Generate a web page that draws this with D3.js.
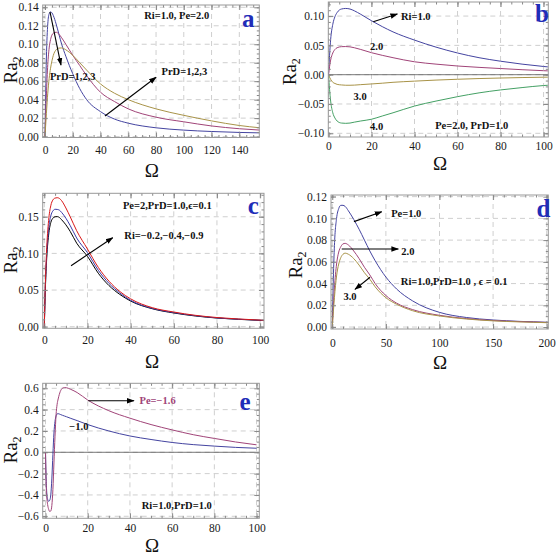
<!DOCTYPE html>
<html>
<head>
<meta charset="utf-8">
<script src="https://cdn.jsdelivr.net/npm/d3@7"></script>
<style>
  body { margin: 0; background: #fff; }
</style>
</head>
<body>
<div id="chart"></div>
<script>
// Panel a : Ri=1.0, Pe=2.0, curves for PrD = 1, 2, 3
const omegaA = [0, 1, 2, 3, 4, 5, 6, 8, 10, 12, 15, 20, 25, 30, 40, 50, 60, 80, 100, 120, 140, 155];
const aPrD1 = [0, .085, .122, .133, .135, .134, .131, .122, .111, .100, .087, .068, .052, .040, .027, .019, .0145, .0095, .007, .0055, .0045, .004];
const aPrD2 = [0, .045, .078, .096, .105, .110, .112, .113, .111, .107, .100, .088, .077, .066, .048, .038, .030, .021, .016, .0115, .0085, .007];
const aPrD3 = [0, .025, .047, .063, .074, .082, .088, .094, .0958, .096, .094, .088, .080, .072, .057, .047, .040, .030, .023, .017, .012, .0095];

// Panel b : Pe=2.0, PrD=1.0, curves for Ri = 1, 2, 3, 4
const omegaB = [0, 1, 2, 3, 4, 6, 8, 10, 12, 15, 20, 25, 30, 40, 50, 60, 70, 80, 90, 100, 102];
const bRi1 = [0, .060, .086, .099, .106, .112, .113, .112, .109, .103, .092, .082, .073, .059, .047, .037, .029, .023, .018, .014, .0133];
const bRi2 = [0, .025, .037, .043, .046, .0478, .048, .0475, .046, .043, .0375, .033, .029, .022, .018, .0148, .0125, .0105, .0085, .0068, .0065];
const bRi3 = [0, -.008, -.013, -.015, -.0165, -.0175, -.018, -.018, -.0178, -.017, -.0158, -.0145, -.013, -.011, -.0092, -.0078, -.0066, -.0057, -.0049, -.0043, -.0042];
const bRi4 = [0, -.045, -.065, -.074, -.079, -.0825, -.083, -.0825, -.081, -.079, -.076, -.0705, -.065, -.0535, -.045, -.0375, -.031, -.026, -.022, -.0185, -.018];

// Panel c : Pe=2, PrD=1.0, eps=0.1, curves for Ri = -0.2, -0.4, -0.9
const omegaC = [0, 0.5, 1, 2, 3, 4, 5, 6, 7, 8, 10, 12, 15, 20, 25, 30, 35, 40, 50, 60, 70, 80, 90, 100, 102];
const cRiBlack = [0, .052, .087, .125, .142, .148, .150, .1502, .149, .146, .139, .130, .114, .096, .073, .056, .044, .035, .0245, .0187, .0146, .0118, .010, .0086, .0083];
const cRiBlue = [0, .055, .092, .133, .151, .158, .1602, .160, .159, .156, .148, .138, .121, .101, .077, .059, .046, .036, .025, .0192, .015, .012, .0102, .0088, .0085];
const cRiRed = [0, .060, .100, .145, .165, .173, .1755, .176, .175, .172, .162, .150, .131, .106, .081, .062, .048, .038, .026, .020, .0155, .0125, .0105, .009, .0087];

// Panel d : Ri=1.0, PrD=1.0, eps=0.1, curves for Pe = 1, 2, 3
const omegaD = [0, 1, 2, 4, 6, 8, 10, 12, 15, 20, 25, 30, 35, 40, 50, 60, 75, 100, 125, 150, 175, 200, 202];
const dPe1 = [0, .045, .075, .100, .109, .112, .112, .111, .107, .099, .090, .080, .070, .061, .046, .035, .024, .0135, .0088, .0065, .0052, .0044, .0043];
const dPe2 = [0, .020, .036, .058, .069, .074, .0765, .077, .0755, .070, .063, .055, .048, .040, .029, .022, .016, .0108, .0078, .006, .005, .0042, .0041];
const dPe3 = [0, .014, .027, .047, .058, .064, .067, .068, .067, .063, .057, .050, .044, .037, .027, .021, .015, .0102, .0074, .0057, .0047, .004, .0039];

// Panel e : Ri=1.0, PrD=1.0, curves for Pe = -1.6, -1.0
const omegaE = [0, 0.3, 0.6, 1, 1.5, 2, 2.5, 3, 3.5, 4, 4.5, 5, 5.5, 6, 7, 8, 9, 10, 12, 15, 20, 30, 40, 50, 60, 70, 80, 90, 100];
const ePeM16 = [0, -.30, -.42, -.49, -.535, -.555, -.55, -.50, -.35, -.10, .15, .35, .45, .50, .57, .60, .607, .605, .59, .56, .49, .39, .32, .26, .21, .165, .13, .097, .07];
const ePeM10 = [0, -.25, -.38, -.44, -.46, -.45, -.40, -.25, -.02, .18, .29, .34, .36, .362, .355, .347, .34, .333, .318, .297, .26, .20, .153, .12, .092, .072, .058, .046, .038];

// tick values
const ticksA = { x: [0, 20, 40, 60, 80, 100, 120, 140], y: [0, .02, .04, .06, .08, .10, .12, .14] };
const ticksB = { x: [0, 20, 40, 60, 80, 100], y: [-.10, -.05, 0, .05, .10] };
const ticksC = { x: [0, 20, 40, 60, 80, 100], y: [0, .05, .10, .15] };
const ticksD = { x: [0, 50, 100, 150, 200], y: [0, .02, .04, .06, .08, .10, .12] };
const ticksE = { x: [0, 20, 40, 60, 80, 100], y: [-.6, -.4, -.2, 0, .2, .4, .6] };

const serif = '"Liberation Serif", "Times New Roman", "DejaVu Serif", serif';
const cBlue = '#4444a0', cPurple = '#a04478', cOlive = '#a89348', cGreen = '#44a064';

const svg = d3.select('#chart')
  .append('svg')
    .attr('width', 556)
    .attr('height', 555)
    .attr('font-family', serif);
svg.append('rect').attr('width', 556).attr('height', 555).attr('fill', '#fff');

svg.append('defs').append('marker')
    .attr('id', 'arrow')
    .attr('viewBox', '0 0 10 10')
    .attr('refX', 9).attr('refY', 5)
    .attr('markerWidth', 7).attr('markerHeight', 7)
    .attr('orient', 'auto')
  .append('path')
    .attr('d', 'M0,1.5 L10,5 L0,8.5 z')
    .attr('fill', '#000');

function drawPanel(p) {
  const x = d3.scaleLinear().domain(p.xDomain).range([p.left, p.right]);
  const y = d3.scaleLinear().domain(p.yDomain).range([p.bottom, p.top]);
  const g = svg.append('g');

  g.append('clipPath').attr('id', 'clip-' + p.id)
    .append('rect')
      .attr('x', p.left).attr('y', p.top)
      .attr('width', p.right - p.left).attr('height', p.bottom - p.top);

  // dashed grid
  g.append('g').selectAll('line').data(p.ticks.x).join('line')
    .attr('x1', d => x(d)).attr('x2', d => x(d))
    .attr('y1', p.top).attr('y2', p.bottom)
    .attr('stroke', '#cfcfcf').attr('stroke-dasharray', '5,4');
  g.append('g').selectAll('line').data(p.ticks.y).join('line')
    .attr('x1', p.left).attr('x2', p.right)
    .attr('y1', d => y(d)).attr('y2', d => y(d))
    .attr('stroke', '#cfcfcf').attr('stroke-dasharray', '5,4');

  if (p.zeroLine) {
    g.append('line')
      .attr('x1', p.left).attr('x2', p.right)
      .attr('y1', y(0)).attr('y2', y(0))
      .attr('stroke', '#555').attr('stroke-width', 0.8);
  }

  // curves
  const line = d3.line()
    .x(d => x(d[0]))
    .y(d => y(d[1]))
    .curve(d3.curveMonotoneX);
  g.append('g').attr('clip-path', 'url(#clip-' + p.id + ')')
    .selectAll('path').data(p.series).join('path')
      .attr('d', s => line(p.omega.map((o, i) => [o, s.values[i]])))
      .attr('fill', 'none')
      .attr('stroke', s => s.color)
      .attr('stroke-width', 1);

  // frame ticks on all four sides, pointing inward
  const xMinor = d3.range(p.minor.x[0], p.xDomain[1], p.minor.x[1]);
  const yMinor = d3.range(p.minor.y[0], p.yDomain[1], p.minor.y[1]);
  const tidy = a => a.attr('font-family', serif)
    .call(s => s.select('.domain').remove())
    .call(s => s.selectAll('line').attr('stroke', '#888'))
    .call(s => s.selectAll('text').attr('fill', '#1a1a1a').attr('font-size', 11.5).attr('font-family', serif));

  g.append('g').attr('transform', 'translate(0,' + p.bottom + ')')
    .call(d3.axisBottom(x).tickValues(p.ticks.x).tickSize(-5).tickPadding(p.xPad).tickFormat(p.xFormat)).call(tidy);
  g.append('g').attr('transform', 'translate(0,' + p.bottom + ')')
    .call(d3.axisBottom(x).tickValues(xMinor).tickSize(-2.5).tickFormat('')).call(tidy);
  g.append('g').attr('transform', 'translate(0,' + p.top + ')')
    .call(d3.axisTop(x).tickValues(p.ticks.x).tickSize(-5).tickFormat('')).call(tidy);
  g.append('g').attr('transform', 'translate(0,' + p.top + ')')
    .call(d3.axisTop(x).tickValues(xMinor).tickSize(-2.5).tickFormat('')).call(tidy);
  g.append('g').attr('transform', 'translate(' + p.left + ',0)')
    .call(d3.axisLeft(y).tickValues(p.ticks.y).tickSize(-5).tickPadding(4).tickFormat(p.yFormat)).call(tidy);
  g.append('g').attr('transform', 'translate(' + p.left + ',0)')
    .call(d3.axisLeft(y).tickValues(yMinor).tickSize(-2.5).tickFormat('')).call(tidy);
  g.append('g').attr('transform', 'translate(' + p.right + ',0)')
    .call(d3.axisRight(y).tickValues(p.ticks.y).tickSize(-5).tickFormat('')).call(tidy);
  g.append('g').attr('transform', 'translate(' + p.right + ',0)')
    .call(d3.axisRight(y).tickValues(yMinor).tickSize(-2.5).tickFormat('')).call(tidy);

  g.append('rect')
    .attr('x', p.left).attr('y', p.top)
    .attr('width', p.right - p.left).attr('height', p.bottom - p.top)
    .attr('fill', 'none').attr('stroke', '#999').attr('stroke-width', 1);

  // axis titles
  g.append('text')
    .attr('x', p.xTitle[0]).attr('y', p.xTitle[1])
    .attr('dy', '0.35em').attr('text-anchor', 'middle')
    .attr('font-size', 19).attr('fill', '#111')
    .text('Ω');
  const yt = g.append('text')
    .attr('transform', 'translate(' + p.yTitle[0] + ',' + p.yTitle[1] + ') rotate(-90)')
    .attr('dy', '0.3em').attr('text-anchor', 'middle')
    .attr('font-size', 19).attr('fill', '#111');
  yt.append('tspan').text('Ra');
  yt.append('tspan').attr('font-size', 12).attr('dy', 4).text('2');

  // annotations
  g.append('g').selectAll('line').data(p.arrows).join('line')
    .attr('x1', d => x(d[0])).attr('y1', d => y(d[1]))
    .attr('x2', d => x(d[2])).attr('y2', d => y(d[3]))
    .attr('stroke', '#000').attr('stroke-width', 1.1)
    .attr('marker-end', 'url(#arrow)');
  g.append('g').selectAll('text').data(p.notes).join('text')
    .attr('x', d => x(d.at[0])).attr('y', d => y(d.at[1]))
    .attr('dy', '0.35em').attr('text-anchor', 'middle')
    .attr('font-size', 10.5).attr('font-weight', 'bold')
    .attr('fill', d => d.color || '#111')
    .text(d => d.text);
  g.append('text')
    .attr('x', x(p.letter[0])).attr('y', y(p.letter[1]))
    .attr('dy', '0.35em').attr('text-anchor', 'middle')
    .attr('font-size', 25).attr('font-weight', 'bold')
    .attr('fill', '#1f2db8')
    .text(p.letter[2]);
}

const f2 = d3.format('.2f'), f1 = d3.format('.1f');

drawPanel({
  id: 'a', left: 42.7, right: 259.3, top: 5, bottom: 137.5,
  xDomain: [-1.66, 154.4], yDomain: [-0.001, 0.1425],
  ticks: ticksA, minor: { x: [0, 5], y: [0, 0.005] },
  xFormat: d3.format('d'), yFormat: f2, xPad: 8.5,
  xTitle: [151.7, 170], yTitle: [11, 70],
  omega: omegaA,
  series: [{ values: aPrD1, color: cBlue }, { values: aPrD2, color: cPurple }, { values: aPrD3, color: cOlive }],
  arrows: [[3.6, 0.135, 11.5, 0.0775], [43.2, 0.0223, 80, 0.0642]],
  notes: [
    { text: 'Ri=1.0, Pe=2.0', at: [94.9, 0.1317] },
    { text: 'PrD=1,2,3', at: [20, 0.0649] },
    { text: 'PrD=1,2,3', at: [100.4, 0.0703] }
  ],
  letter: [146.5, 0.128, 'a']
});

drawPanel({
  id: 'b', left: 328.3, right: 548.3, top: 2, bottom: 137,
  xDomain: [-0.09, 102.2], yDomain: [-0.1063, 0.124],
  ticks: ticksB, minor: { x: [0, 5], y: [-0.1, 0.01] },
  xFormat: d3.format('d'), yFormat: f2, xPad: 5,
  xTitle: [440, 163.3], yTitle: [290, 71.7],
  zeroLine: true,
  omega: omegaB,
  series: [{ values: bRi1, color: cBlue }, { values: bRi2, color: cPurple }, { values: bRi3, color: cOlive }, { values: bRi4, color: cGreen }],
  arrows: [[20.8, 0.0904, 32, 0.1036]],
  notes: [
    { text: 'Ri=1.0', at: [40.6, 0.099] },
    { text: '2.0', at: [22.4, 0.0478] },
    { text: '3.0', at: [14.7, -0.0375] },
    { text: '4.0', at: [22.4, -0.0887] },
    { text: 'Pe=2.0, PrD=1.0', at: [66.6, -0.0858] }
  ],
  letter: [99.2, 0.105, 'b']
});

drawPanel({
  id: 'c', left: 42.7, right: 264, top: 193.3, bottom: 328.3,
  xDomain: [-0.74, 101.8], yDomain: [-0.0022, 0.182],
  ticks: ticksC, minor: { x: [0, 5], y: [0, 0.01] },
  xFormat: d3.format('d'), yFormat: f2, xPad: 7.7,
  xTitle: [152, 361], yTitle: [11, 260],
  omega: omegaC,
  series: [{ values: cRiBlack, color: '#000' }, { values: cRiBlue, color: '#3a3aa8' }, { values: cRiRed, color: '#d81818' }],
  arrows: [[12.4, 0.0832, 31.7, 0.1214]],
  notes: [
    { text: 'Pe=2,PrD=1.0,ϵ=0.1', at: [57, 0.166] },
    { text: 'Ri=−0.2,−0.4,−0.9', at: [55.4, 0.125] }
  ],
  letter: [96.8, 0.166, 'c']
});

drawPanel({
  id: 'd', left: 331, right: 548.3, top: 195, bottom: 329,
  xDomain: [-1.2, 201.5], yDomain: [-0.0018, 0.1215],
  ticks: ticksD, minor: { x: [0, 10], y: [0, 0.005] },
  xFormat: d3.format('d'), yFormat: f2, xPad: 10,
  xTitle: [440, 362], yTitle: [296, 265],
  omega: omegaD,
  series: [{ values: dPe1, color: cBlue }, { values: dPe2, color: cPurple }, { values: dPe3, color: cOlive }],
  arrows: [[20.2, 0.097, 46.1, 0.106], [8.8, 0.0718, 61.6, 0.0718], [35.2, 0.0458, 21.2, 0.0347]],
  notes: [
    { text: 'Pe=1.0', at: [69, 0.1047] },
    { text: '2.0', at: [70.5, 0.070] },
    { text: '3.0', at: [16.5, 0.0279] },
    { text: 'Ri=1.0,PrD=1.0 , ϵ = 0.1', at: [113.7, 0.0417] }
  ],
  letter: [196.9, 0.109, 'd']
});

drawPanel({
  id: 'e', left: 42.7, right: 259.3, top: 383.3, bottom: 518.3,
  xDomain: [-1.33, 101.3], yDomain: [-0.619, 0.647],
  ticks: ticksE, minor: { x: [0, 5], y: [-0.6, 0.05] },
  xFormat: d3.format('d'), yFormat: f1, xPad: 6,
  xTitle: [152, 545], yTitle: [11, 450],
  zeroLine: true,
  omega: omegaE,
  series: [{ values: ePeM10, color: cBlue }, { values: ePeM16, color: cPurple }],
  arrows: [[20.3, 0.484, 41.9, 0.484]],
  notes: [
    { text: 'Pe=−1.6', at: [53.1, 0.484], color: cPurple },
    { text: '−1.0', at: [15.8, 0.247] },
    { text: 'Ri=1.0,PrD=1.0', at: [62.2, -0.50] }
  ],
  letter: [94.5, 0.475, 'e']
});
</script>
</body>
</html>
